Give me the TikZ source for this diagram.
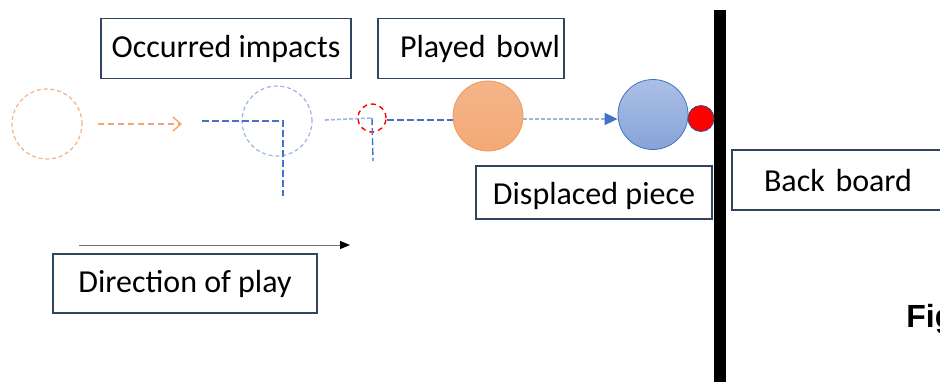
\documentclass[tikz,border=0pt]{standalone}
\usepackage{fontspec}
\setmainfont{Carlito}
\newfontfamily\capfont{Liberation Sans}
\usepackage{xcolor}
\usetikzlibrary{arrows.meta}

\definecolor{frame}{HTML}{2F4661}
\definecolor{peach}{HTML}{F4B183}
\definecolor{rust}{HTML}{ED7D31}
\definecolor{steel}{HTML}{4472C4}
\definecolor{haze}{HTML}{9DB3E0}

\begin{document}
\begin{tikzpicture}[
    x=0.5pt, y=-0.5pt,
    box/.style={draw=frame, line width=0.75pt, fill=white, inner sep=0pt,
        minimum height=30pt, align=center, font=\fontsize{16}{19}\selectfont},
    ball/.style={circle, inner sep=0pt, minimum size=35pt},
    ghost/.style={ball, draw=peach, line width=0.6pt, dash pattern=on 2pt off 1.4pt},
    arr/.style={-{Triangle[length=6pt, width=5pt]}}
]
    \useasboundingbox (0,0) rectangle (940,381);

    % back board
    \draw[line width=6pt] (720,10) -- (720,395);

    % balls along the line of play
    \node[ghost] (start) at (47,124) {};
    \node[ghost, draw=haze] (hitA) at (277,121) {};
    \node[ball, draw=red, line width=0.7pt, dash pattern=on 2.5pt off 2pt,
        minimum size=14pt] (hitB) at (372,118) {};
    \node[ball, draw=rust!80, line width=0.4pt, top color=peach!95,
        bottom color=peach!85!rust] (bowl) at (488,116) {};
    \node[ball, draw=steel, line width=0.4pt, top color=steel!45,
        bottom color=steel!65] (jack) at (653,114.5) {};
    \node[ball, fill=red, draw=steel!70!black, line width=0.4pt,
        minimum size=13pt] (piece) at (701,118.5) {};

    % paths of the impacts
    \coordinate (roll0) at (98,124);
    \coordinate (roll1) at (182,124);
    \draw[rust!70, line width=0.7pt, dash pattern=on 3pt off 2pt,
        -{Straight Barb[length=4pt, width=7pt]}] (roll0) -- (roll1);

    \coordinate (inA) at (202,121);
    \coordinate (cornerA) at (283,121);
    \coordinate (outA) at (283,196);
    \draw[steel, line width=0.7pt, dash pattern=on 3.5pt off 1.5pt]
        (inA) -- (cornerA) -- (outA);

    \coordinate (inB) at (325,120);
    \coordinate (outB) at (373,161);
    \draw[haze, line width=0.8pt, dash pattern=on 2pt off 1pt] (inB) -- (hitB.center);
    \draw[steel, line width=0.7pt, dash pattern=on 3.5pt off 1.5pt]
        (hitB.center) -- (outB);
    \draw[steel, line width=0.7pt, dash pattern=on 3.5pt off 1.5pt]
        (hitB.east |- 0,120) -- (bowl.west |- 0,120);

    \draw[haze, line width=0.9pt, dash pattern=on 2pt off 1pt,
        -{Triangle[length=6.5pt, width=6pt, color=steel]}]
        (bowl.east |- 0,119) -- (jack.west |- 0,119);

    % labels
    \node[box, minimum width=125pt] (impacts) at (226,48.5) {Occurred impacts};
    \node[box, minimum width=93pt, text width=89pt, align=right, inner xsep=2pt]
        (played) at (471,48.5) {Played bowl};
    \node[box, minimum width=118pt, minimum height=26.5pt, text depth=1pt]
        (displaced) at (594,192.5) {\raisebox{-2pt}{Displaced piece}};
    \node[box, minimum width=114pt, text width=82pt, align=left, inner xsep=16pt]
        (board) at (846,180) {Back board};

    % direction of play
    \coordinate (dir0) at (79,245);
    \coordinate (dir1) at (350,245);
    \draw[black!55, line width=0.5pt, -{Triangle[length=5pt, width=4pt, color=black]}]
        (dir0) -- (dir1);
    \node[box, minimum width=132pt, minimum height=29.5pt] (direction) at (185,283.5)
        {\raisebox{2pt}{Direction of play}};

    \node[anchor=base west, inner sep=0pt, font=\capfont\bfseries\fontsize{16}{19}\selectfont]
        (fig) at (906,327) {Fig};
\end{tikzpicture}
\end{document}
